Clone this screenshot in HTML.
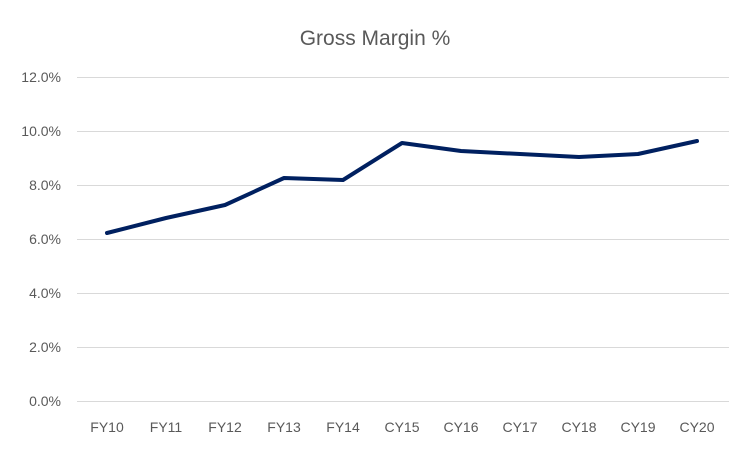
<!DOCTYPE html>
<html><head><style>body{margin:0;background:#fff}</style></head><body>
<svg width="750" height="450" xmlns="http://www.w3.org/2000/svg" font-family="Liberation Sans, sans-serif">
<rect width="750" height="450" fill="#fff"/>
<text x="375" y="45" text-anchor="middle" font-size="21" fill="#595959">Gross Margin %</text>
<g stroke="#d9d9d9" stroke-width="1">
<line x1="77" x2="729" y1="77.5" y2="77.5"/>
<line x1="77" x2="729" y1="131.5" y2="131.5"/>
<line x1="77" x2="729" y1="185.5" y2="185.5"/>
<line x1="77" x2="729" y1="239.5" y2="239.5"/>
<line x1="77" x2="729" y1="293.5" y2="293.5"/>
<line x1="77" x2="729" y1="347.5" y2="347.5"/>
<line x1="77" x2="729" y1="401.5" y2="401.5"/>
</g>
<g font-size="14" fill="#595959" text-anchor="end">
<text x="61" y="82">12.0%</text><text x="61" y="136">10.0%</text><text x="61" y="190">8.0%</text>
<text x="61" y="244">6.0%</text><text x="61" y="298">4.0%</text><text x="61" y="352">2.0%</text><text x="61" y="406">0.0%</text>
</g>
<g font-size="14" fill="#595959" text-anchor="middle">
<text x="107" y="432">FY10</text><text x="166" y="432">FY11</text><text x="225" y="432">FY12</text>
<text x="284" y="432">FY13</text><text x="343" y="432">FY14</text><text x="402" y="432">CY15</text>
<text x="461" y="432">CY16</text><text x="520" y="432">CY17</text><text x="579" y="432">CY18</text>
<text x="638" y="432">CY19</text><text x="697" y="432">CY20</text>
</g>
<polyline fill="none" stroke="#002060" stroke-width="4" stroke-linejoin="round" stroke-linecap="round"
points="107,233 166,218 225,205 284,178 343,180 402,143 461,151 520,154 579,157 638,154 697,141"/>
</svg>
</body></html>
